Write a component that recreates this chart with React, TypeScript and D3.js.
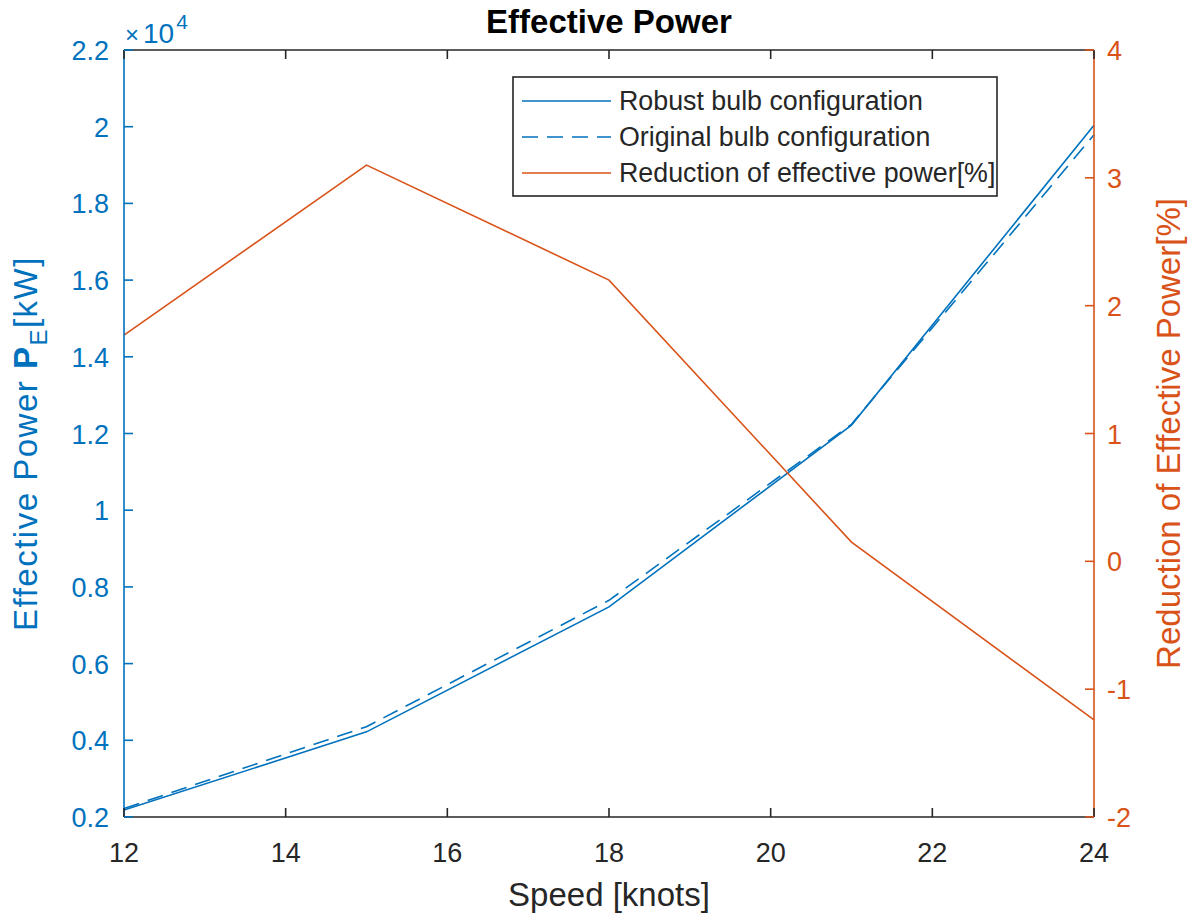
import React from "react";
import * as d3 from "d3";

const speed = [12, 15, 18, 21, 24];
const robust = [2180, 4220, 7480, 12220, 20040];
const original = [2220, 4355, 7650, 12240, 19790];
const reduction = [1.77, 3.1, 2.2, 0.15, -1.24];

const xTicks = [12, 14, 16, 18, 20, 22, 24];
const yLeftTicks = [0.2, 0.4, 0.6, 0.8, 1, 1.2, 1.4, 1.6, 1.8, 2, 2.2];
const yRightTicks = [-2, -1, 0, 1, 2, 3, 4];
const legendLabels = [
  "Robust bulb configuration",
  "Original bulb configuration",
  "Reduction of effective power[%]",
];

const W = 1190;
const H = 916;
const L = 124, R = 1094, T = 50, B = 817;
const BLUE = "#0072BD";
const ORANGE = "#D95319";
const AX = "#262626";
const FONT = "Liberation Sans, Arial, Helvetica, sans-serif";

export default function App() {
  const x = d3.scaleLinear().domain([12, 24]).range([L, R]);
  const yL = d3.scaleLinear().domain([2000, 22000]).range([B, T]);
  const yR = d3.scaleLinear().domain([-2, 4]).range([B, T]);

  const line = (ys: number[], sc: d3.ScaleLinear<number, number>) =>
    d3.line<number>().x((_, i) => x(speed[i])).y((d) => sc(d))(ys) || "";

  const tickLen = 9;
  const tickFs = 27;
  const labelFs = 33;

  return (
    <svg
      width={W}
      height={H}
      style={{ position: "absolute", left: 0, top: 0, background: "#fff" }}
      fontFamily={FONT}
    >
      <rect x={0} y={0} width={W} height={H} fill="#fff" />
      {/* data lines */}
      <path d={line(robust, yL)} fill="none" stroke={BLUE} strokeWidth={1.6} />
      <path d={line(original, yL)} fill="none" stroke={BLUE} strokeWidth={1.6} strokeDasharray="16,9" />
      <path d={line(reduction, yR)} fill="none" stroke={ORANGE} strokeWidth={1.6} />

      {/* axes box */}
      <line x1={L} x2={R} y1={B} y2={B} stroke={AX} strokeWidth={1.6} />
      <line x1={L} x2={R} y1={T} y2={T} stroke={AX} strokeWidth={1.6} />
      <line x1={L} x2={L} y1={T} y2={B} stroke={BLUE} strokeWidth={1.6} />
      <line x1={R} x2={R} y1={T} y2={B} stroke={ORANGE} strokeWidth={1.6} />

      {/* x ticks */}
      {xTicks.map((t) => (
        <g key={"x" + t}>
          <line x1={x(t)} x2={x(t)} y1={B} y2={B - tickLen} stroke={AX} strokeWidth={1.6} />
          <line x1={x(t)} x2={x(t)} y1={T} y2={T + tickLen} stroke={AX} strokeWidth={1.6} />
          <text x={x(t)} y={B + 45} textAnchor="middle" fontSize={tickFs} fill={AX}>
            {t}
          </text>
        </g>
      ))}
      {/* left ticks */}
      {yLeftTicks.map((t) => (
        <g key={"yl" + t}>
          <line x1={L} x2={L + tickLen} y1={yL(t * 10000)} y2={yL(t * 10000)} stroke={BLUE} strokeWidth={1.6} />
          <text x={L - 15} y={yL(t * 10000) + 10} textAnchor="end" fontSize={tickFs} fill={BLUE}>
            {t}
          </text>
        </g>
      ))}
      {/* right ticks */}
      {yRightTicks.map((t) => (
        <g key={"yr" + t}>
          <line x1={R} x2={R - tickLen} y1={yR(t)} y2={yR(t)} stroke={ORANGE} strokeWidth={1.6} />
          <text x={R + 13} y={yR(t) + 10} textAnchor="start" fontSize={tickFs} fill={ORANGE}>
            {t}
          </text>
        </g>
      ))}

      {/* exponent */}
      <text x={L + 1} y={T - 7} fontSize={28} fill={BLUE}>
        <tspan fontSize={24}>×</tspan>
        <tspan dx={4}>10</tspan>
        <tspan fontSize={21} dy={-14} dx={2}>4</tspan>
      </text>

      {/* title */}
      <text x={(L + R) / 2} y={33} textAnchor="middle" fontSize={33} fontWeight="bold" fill="#000">
        Effective Power
      </text>

      {/* x label */}
      <text x={(L + R) / 2} y={906} textAnchor="middle" fontSize={labelFs} fill={AX}>
        Speed [knots]
      </text>

      {/* left label */}
      <text
        transform={`translate(37, ${(T + B) / 2 + 10}) rotate(-90)`}
        textAnchor="middle"
        fontSize={labelFs}
        fill={BLUE}
        letterSpacing={1.5}
      >
        Effective Power <tspan fontWeight="bold">P</tspan>
        <tspan fontSize={24} dy={10}>E</tspan>
        <tspan dy={-10}>[kW]</tspan>
      </text>

      {/* right label */}
      <text
        transform={`translate(1180, ${(T + B) / 2}) rotate(-90)`}
        textAnchor="middle"
        fontSize={labelFs}
        fill={ORANGE}
      >
        Reduction of Effective Power[%]
      </text>

      {/* legend */}
      <g>
        <rect x={513} y={77} width={484} height={119} fill="#fff" stroke={AX} strokeWidth={1.6} />
        {legendLabels.map((lab, i) => {
          const yy = 101 + i * 36;
          return (
            <g key={lab}>
              <line
                x1={522}
                x2={611}
                y1={yy}
                y2={yy}
                stroke={i === 2 ? ORANGE : BLUE}
                strokeWidth={1.6}
                strokeDasharray={i === 1 ? "16,9" : undefined}
              />
              <text x={619} y={yy + 9} fontSize={26.8} fill={AX}>
                {lab}
              </text>
            </g>
          );
        })}
      </g>
    </svg>
  );
}
